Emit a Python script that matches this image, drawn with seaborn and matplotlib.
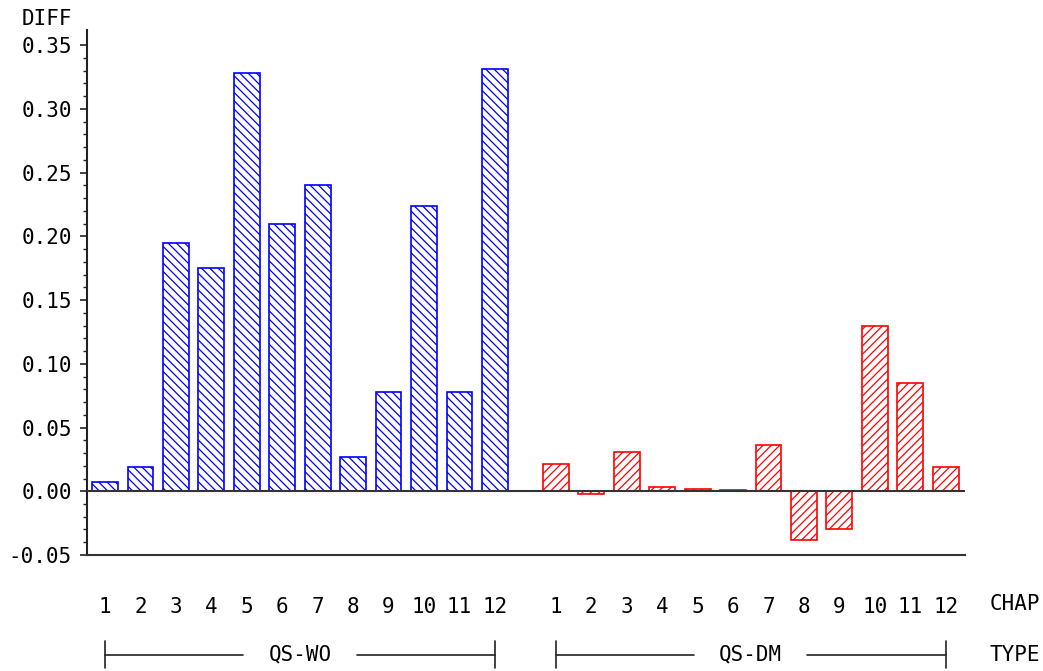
import numpy as np
import pandas as pd
import matplotlib
matplotlib.use('Agg')
import matplotlib.pyplot as plt
import seaborn as sns

# 값
chap = list(range(1, 13))
types = ['QS-WO', 'QS-DM']
diff_wo = [0.007, 0.019, 0.195, 0.175, 0.328, 0.210, 0.240, 0.027, 0.078, 0.224, 0.078, 0.331]
diff_dm = [0.021, -0.002, 0.031, 0.003, 0.002, 0.001, 0.036, -0.038, -0.030, 0.130, 0.085, 0.019]
colors = {'QS-WO': '#0000ff', 'QS-DM': '#ff0000'}
hatches = {'QS-WO': '\\\\\\\\', 'QS-DM': '////'}

sns.set_style('white')
plt.rcParams['font.family'] = ['DejaVu Sans Mono', 'DejaVu Sans']
plt.rcParams['text.color'] = 'black'
plt.rcParams['xtick.color'] = 'black'
plt.rcParams['ytick.color'] = 'black'
plt.rcParams['hatch.linewidth'] = 0.9

# x 위치: 그룹 사이 간격
gap = 1.72
pos_wo = [c for c in chap]
pos_dm = [12 + gap + (c - 1) for c in chap]

df = pd.DataFrame({
    'pos': pos_wo + pos_dm,
    'diff': diff_wo + diff_dm,
    'type': ['QS-WO'] * 12 + ['QS-DM'] * 12,
})

fig = plt.figure(figsize=(10.43, 6.71), dpi=100)
ax = fig.add_axes([0.0834, 0.1729, 0.8416, 0.7826])

sns.barplot(data=df, x='pos', y='diff', hue='type', hue_order=types,
            palette=colors, native_scale=True, dodge=False, fill=False,
            width=0.73, linewidth=1.2, legend=False, ax=ax)

# 해칭
for bar in ax.patches:
    x = bar.get_x() + bar.get_width() / 2
    t = 'QS-WO' if x < 12.5 else 'QS-DM'
    bar.set_hatch(hatches[t])
    bar.set_edgecolor(colors[t])

ax.axhline(0, color='#333333', lw=1.5, zorder=5)

ax.set_xlim(0.49, pos_dm[-1] + 0.54)
ax.set_ylim(-0.05, 0.362)
major = np.round(np.linspace(-0.05, 0.35, 9), 2)
ax.set_yticks(major)
ax.set_yticklabels([f'{v:.2f}'.replace('-0.00', '0.00') for v in major])
ax.set_yticks(np.round(np.linspace(-0.05, 0.35, 41), 2), minor=True)
ax.tick_params(axis='y', which='major', length=5, width=1.2, pad=6,
               labelsize=15, left=True, color='#222222', labelcolor='black')
ax.tick_params(axis='y', which='minor', length=3, width=1.0, left=True,
               color='#222222')

ax.set_xticks(pos_wo + pos_dm)
ax.set_xticklabels([str(c) for c in chap + chap])
ax.tick_params(axis='x', length=0, pad=30, labelsize=15, labelcolor='black')

ax.set_xlabel('')
ax.set_ylabel('')
sns.despine(ax=ax, top=True, right=True)
ax.spines['left'].set_color('#222222')
ax.spines['left'].set_linewidth(1.5)
ax.spines['bottom'].set_color('#333333')
ax.spines['bottom'].set_linewidth(1.5)

fig.text(0.021, 0.972, 'DIFF', fontsize=15, va='center', ha='left')

trans = ax.get_xaxis_transform()
ax.text(pos_dm[-1] + 1.25, -0.094, 'CHAP', transform=trans, fontsize=15,
        va='center', ha='left', clip_on=False)
ax.text(pos_dm[-1] + 1.25, -0.19, 'TYPE', transform=trans, fontsize=15,
        va='center', ha='left', clip_on=False)

# TYPE 괄호
for name, pos in [('QS-WO', pos_wo), ('QS-DM', pos_dm)]:
    x0, x1 = pos[0], pos[-1]
    mid = (x0 + x1) / 2
    yb = -0.19
    kw = dict(color='#222222', lw=1.2, transform=trans, clip_on=False)
    ax.plot([x0, mid - 1.6], [yb, yb], **kw)
    ax.plot([mid + 1.6, x1], [yb, yb], **kw)
    ax.plot([x0, x0], [-0.163, -0.215], **kw)
    ax.plot([x1, x1], [-0.163, -0.215], **kw)
    ax.text(mid, yb, name, transform=trans, fontsize=15, ha='center',
            va='center', clip_on=False)

fig.savefig('out.png', dpi=100)
